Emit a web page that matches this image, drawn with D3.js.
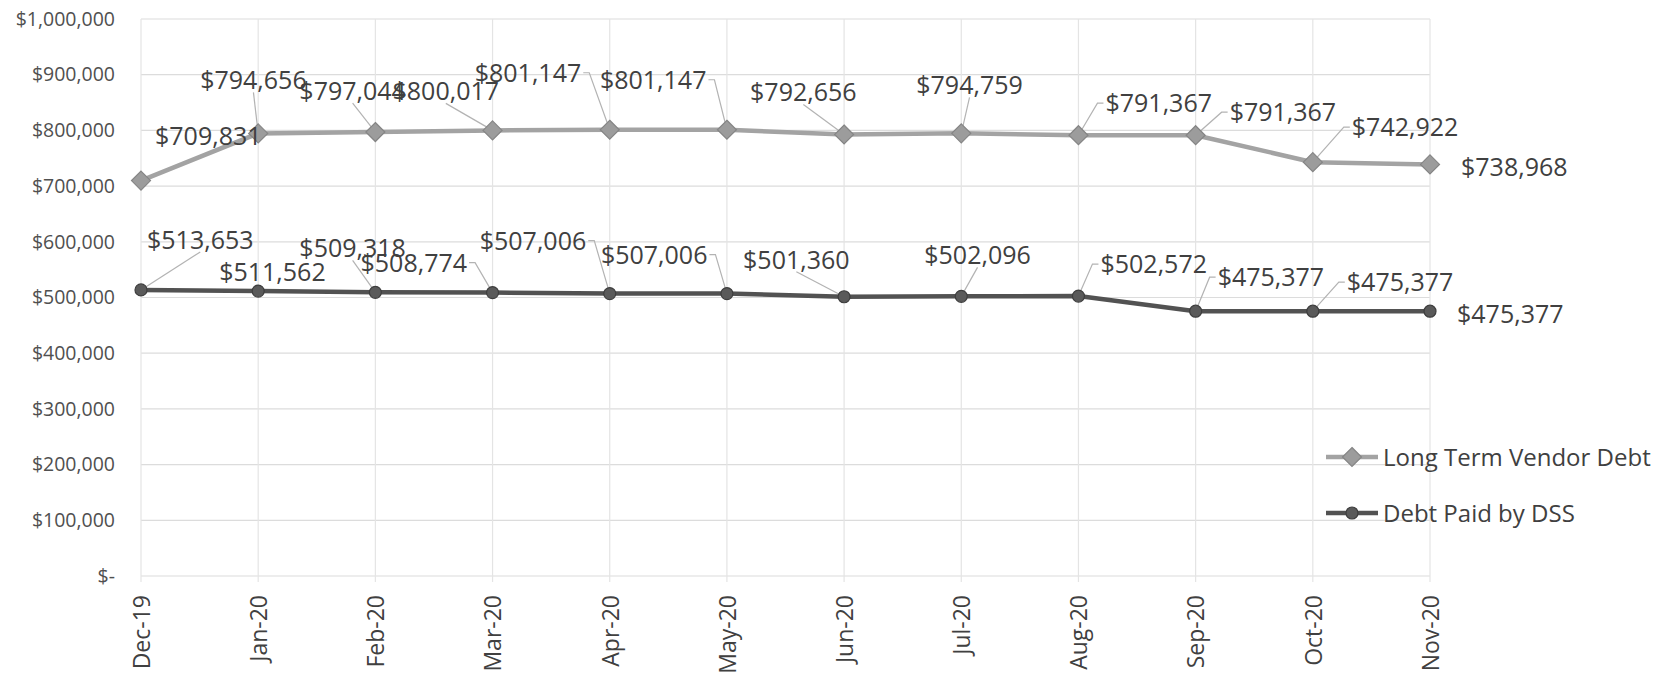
<!DOCTYPE html>
<html>
<head>
<meta charset="utf-8">
<script src="https://cdn.jsdelivr.net/npm/d3@7"></script>
<style>
  html, body { margin: 0; padding: 0; background: #fff; }
  svg { display: block; }
</style>
</head>
<body>
<svg id="chart"></svg>
<script>
// Months on the x axis
const MONTHS = ["Dec-19", "Jan-20", "Feb-20", "Mar-20", "Apr-20", "May-20",
  "Jun-20", "Jul-20", "Aug-20", "Sep-20", "Oct-20", "Nov-20"];

// Series values
const VENDOR_DEBT = [709831, 794656, 797044, 800017, 801147, 801147,
  792656, 794759, 791367, 791367, 742922, 738968];
const DSS_PAID = [513653, 511562, 509318, 508774, 507006, 507006,
  501360, 502096, 502572, 475377, 475377, 475377];

const Y_TICKS = [0, 100000, 200000, 300000, 400000, 500000,
  600000, 700000, 800000, 900000, 1000000];

// Manually placed data labels (pixel offset from the point: left edge, middle)
const VENDOR_LABEL_OFFSETS = [[14, -45], [-58, -53], [-76, -41], [-100, -39],
  [-135, -57], [-127, -50], [-94, -42], [-45, -48], [27, -32], [34, -23],
  [39, -35], [31, 3]];
const DSS_LABEL_OFFSETS = [[6, -50], [-39, -19], [-76, -44], [-132, -30],
  [-130, -53], [-126, -39], [-101, -37], [-37, -41], [22, -32], [22, -34],
  [34, -29], [27, 3]];
const VENDOR_LEADERS = [false, true, true, true, true, true, true, true, true, true, true, false];
const DSS_LEADERS = [true, false, true, true, true, true, true, true, true, true, true, false];

const W = 1674, H = 678;
const FONT = "'Open Sans', 'Noto Sans', sans-serif";
const TEXT = "#404040";

const svg = d3.select("#chart").attr("width", W).attr("height", H);
svg.append("rect").attr("width", W).attr("height", H).attr("fill", "#fff");

const x = d3.scalePoint().domain(MONTHS).range([141, 1430]);
const y = d3.scaleLinear().domain([0, 1000000]).range([576, 19]);

const fmt = (v) => (v === 0 ? "$-" : "$" + d3.format(",")(v));

// Gridlines
const grid = svg.append("g");
grid.selectAll("line.h")
  .data(Y_TICKS)
  .join("line")
  .attr("x1", x(MONTHS[0]))
  .attr("x2", x(MONTHS[MONTHS.length - 1]))
  .attr("y1", (d) => y(d))
  .attr("y2", (d) => y(d))
  .attr("stroke", "#dcdcdc")
  .attr("stroke-width", 1.2);
grid.selectAll("line.v")
  .data(MONTHS)
  .join("line")
  .attr("x1", (d) => x(d))
  .attr("x2", (d) => x(d))
  .attr("y1", y(1000000))
  .attr("y2", y(0) + 6)
  .attr("stroke", "#e4e4e4")
  .attr("stroke-width", 1.2);

// Y axis
const yAxis = svg.append("g")
  .attr("transform", "translate(121,0)")
  .call(d3.axisLeft(y).tickValues(Y_TICKS).tickFormat(fmt).tickSize(0).tickPadding(6));
yAxis.select(".domain").remove();
yAxis.selectAll("text")
  .attr("font-family", FONT)
  .attr("font-size", 19.5)
  .attr("fill", "#505050");

// X axis (rotated labels)
const xAxis = svg.append("g")
  .attr("transform", `translate(0,${y(0)})`)
  .call(d3.axisBottom(x).tickSize(0).tickPadding(0));
xAxis.select(".domain").remove();
xAxis.selectAll("text")
  .attr("font-family", FONT)
  .attr("font-size", 23)
  .attr("fill", "#404040")
  .attr("text-anchor", "end")
  .attr("transform", "rotate(-90)")
  .attr("x", -19)
  .attr("y", 0)
  .attr("dy", "0.36em");

const series = [
  { name: "Long Term Vendor Debt", values: VENDOR_DEBT, offsets: VENDOR_LABEL_OFFSETS,
    leaders: VENDOR_LEADERS, color: "#a3a3a3", mark: "diamond", fill: "#9c9c9c", edge: "#858585" },
  { name: "Debt Paid by DSS", values: DSS_PAID, offsets: DSS_LABEL_OFFSETS,
    leaders: DSS_LEADERS, color: "#525252", mark: "circle", fill: "#5a5a5a", edge: "#3e3e3e" },
];

const line = d3.line().x((d, i) => x(MONTHS[i])).y((d) => y(d));
const diamond = (r) => `M0,${-r}L${r},0L0,${r}L${-r},0Z`;

function drawMarker(g, s, cx, cy) {
  if (s.mark === "diamond") {
    g.append("path")
      .attr("d", diamond(9.5))
      .attr("transform", `translate(${cx},${cy})`)
      .attr("fill", s.fill)
      .attr("stroke", s.edge)
      .attr("stroke-width", 1.2);
  } else {
    g.append("circle")
      .attr("cx", cx)
      .attr("cy", cy)
      .attr("r", 6)
      .attr("fill", s.fill)
      .attr("stroke", s.edge)
      .attr("stroke-width", 1.2);
  }
}

const leaderG = svg.append("g");
const plotG = svg.append("g");
const labelG = svg.append("g");

series.forEach((s) => {
  plotG.append("path")
    .datum(s.values)
    .attr("d", line)
    .attr("fill", "none")
    .attr("stroke", s.color)
    .attr("stroke-width", 4.5)
    .attr("stroke-linejoin", "round");

  s.values.forEach((v, i) => {
    const px = x(MONTHS[i]), py = y(v);
    drawMarker(plotG, s, px, py);

    const lx = px + s.offsets[i][0], ly = py + s.offsets[i][1];
    const t = labelG.append("text")
      .attr("x", lx)
      .attr("y", ly)
      .attr("dy", "0.36em")
      .attr("font-family", FONT)
      .attr("font-size", 25)
      .attr("fill", TEXT)
      .text(fmt(v));

    if (!s.leaders[i]) return;
    const w = t.node().getComputedTextLength();
    const left = lx, right = lx + w, bottom = ly + 12;
    let pts;
    if (px < left - 10) {
      pts = [[left - 2, ly], [left - 8, ly], [px, py]];
    } else if (px > right + 10) {
      pts = [[right + 2, ly], [right + 8, ly], [px, py]];
    } else {
      pts = [[(left + right) / 2, bottom], [px, py]];
    }
    leaderG.append("path")
      .attr("d", d3.line()(pts))
      .attr("fill", "none")
      .attr("stroke", "#b3b3b3")
      .attr("stroke-width", 1.2);
  });
});

// Legend
const legG = svg.append("g");
series.forEach((s, i) => {
  const ly = 457 + i * 56;
  legG.append("line")
    .attr("x1", 1326).attr("x2", 1378)
    .attr("y1", ly).attr("y2", ly)
    .attr("stroke", s.color)
    .attr("stroke-width", 4.5);
  drawMarker(legG, s, 1352, ly);
  legG.append("text")
    .attr("x", 1383)
    .attr("y", ly)
    .attr("dy", "0.36em")
    .attr("font-family", FONT)
    .attr("font-size", 24)
    .attr("fill", TEXT)
    .text(s.name);
});
</script>
</body>
</html>
